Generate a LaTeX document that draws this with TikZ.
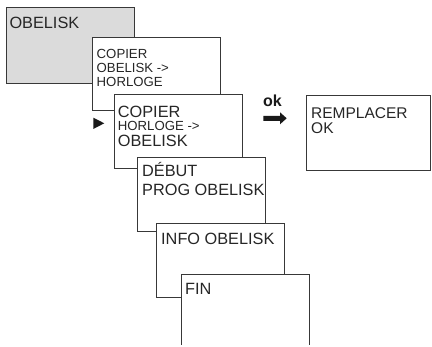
\documentclass[tikz,border=0pt]{standalone}
\usepackage{fontspec}
\setmainfont{Liberation Sans}
\begin{document}
\begin{tikzpicture}[x=1pt,y=-1pt,
  box/.style={draw=black!78,line width=0.8pt,fill=white},
  graybox/.style={box,fill=black!14},
  big/.style={anchor=base west,inner sep=0pt,font=\fontsize{16.3}{18}\selectfont,text=black!85},
  small/.style={anchor=base west,inner sep=0pt,font=\fontsize{13.2}{15}\selectfont,text=black!85},
  mid/.style={anchor=base west,inner sep=0pt,font=\fontsize{15.5}{17}\selectfont,text=black!85}]
\useasboundingbox (0,0) rectangle (432,347);
% boxes
\draw[graybox] (6,7) rectangle (134,83);
\draw[box] (92.5,37) rectangle (220.5,110.5);
\draw[box] (114.3,94) rectangle (242.3,168.3);
\draw[box] (137.5,157) rectangle (265,231);
\draw[box] (156.7,223.3) rectangle (284.7,297.7);
\fill[white] (181.3,274) rectangle (309,347);
\draw[box] (181.3,345) -- (181.3,274) -- (309,274) -- (309,345);
\draw[box] (306,95) rectangle (430.5,170.7);
% texts
\node[big] (t1) at (9.3,29) {OBELISK};
\node[small] (t2a) at (96.5,59) {COPIER};
\node[small] (t2b) at (96.5,72.5) {OBELISK ->};
\node[small] (t2c) at (96.5,87) {HORLOGE};
\node[big] (t3a) at (117.7,117.5) {COPIER};
\node[small] (t3b) at (117.7,131) {HORLOGE ->};
\node[big] (t3c) at (117.7,146.5) {OBELISK};
\node[big] (t4a) at (142,176.3) {DÉBUT};
\node[big] (t4b) at (142,195.3) {PROG OBELISK};
\node[big] (t5) at (161,244.3) {INFO OBELISK};
\node[big] (t6) at (185,294.3) {FIN};
\node[mid] (t7a) at (311,118.3) {REMPLACER};
\node[mid] (t7b) at (311,134) {OK};
\node[anchor=base,inner sep=0pt,font=\fontsize{16}{18}\selectfont\bfseries,text=black!90] (ok) at (272.5,106.7) {ok};
% marker triangle
\fill[black!90] (93.3,117.7) -- (104.3,123.3) -- (93.3,129) -- cycle;
% arrow
\fill[black!90] (263.3,115.8) -- (280,115.8) -- (280,112.3) -- (286.7,118.3) -- (280,124.3) -- (280,120.8) -- (263.3,120.8) -- cycle;
\end{tikzpicture}
\end{document}
